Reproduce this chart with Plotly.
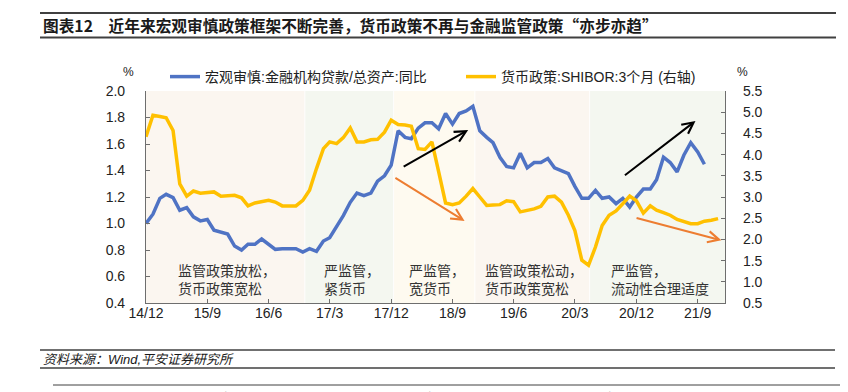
import pandas as pd
import plotly.graph_objects as go

# ---------------- data ----------------
months = pd.date_range("2014-12-01", periods=85, freq="MS")

macro_ratio = [  # 宏观审慎:金融机构贷款/总资产:同比 (left axis, %)
    1.00, 1.07, 1.19, 1.22, 1.195, 1.10, 1.12, 1.05, 1.02, 1.03,
    0.95, 0.935, 0.92, 0.83, 0.80, 0.843, 0.843, 0.883, 0.84, 0.805,
    0.81, 0.81, 0.81, 0.785, 0.81, 0.79, 0.868, 0.893, 0.98, 1.06,
    1.16, 1.23, 1.21, 1.23, 1.32, 1.36, 1.44, 1.70, 1.65, 1.64,
    1.72, 1.76, 1.76, 1.715, 1.83, 1.75, 1.83, 1.85, 1.885, 1.70,
    1.65, 1.61, 1.50, 1.43, 1.42, 1.53, 1.42, 1.46, 1.46, 1.49,
    1.42, 1.40, 1.376, 1.28, 1.19, 1.19, 1.25, 1.19, 1.20, 1.15,
    1.19, 1.125, 1.20, 1.26, 1.26, 1.33, 1.50, 1.46, 1.39, 1.515,
    1.61, 1.54, 1.447,
]

shibor_3m = [  # 货币政策:SHIBOR:3个月 (right axis, %)
    4.42, 4.93, 4.90, 4.87, 4.57, 3.31, 3.02, 3.14, 3.09, 3.10,
    3.12, 3.02, 3.04, 3.04, 2.98, 2.79, 2.86, 2.89, 2.92, 2.88,
    2.79, 2.79, 2.79, 2.92, 3.16, 3.67, 4.14, 4.30, 4.26, 4.40,
    4.63, 4.30, 4.30, 4.35, 4.36, 4.53, 4.81, 4.71, 4.70, 4.67,
    4.14, 4.12, 4.30, 3.60, 2.86, 2.82, 2.86, 3.02, 3.20, 3.00,
    2.80, 2.81, 2.82, 2.91, 2.89, 2.65, 2.68, 2.72, 2.78, 3.00,
    3.02, 2.88, 2.57, 2.21, 1.51, 1.39, 1.82, 2.33, 2.57, 2.67,
    2.84, 3.02, 2.91, 2.62, 2.79, 2.69, 2.63, 2.57, 2.47, 2.43,
    2.37, 2.37, 2.43, 2.45, 2.49,
]

tick_dates = ["2014-12-01", "2015-09-01", "2016-06-01", "2017-03-01", "2017-12-01",
              "2018-09-01", "2019-06-01", "2020-03-01", "2020-12-01", "2021-09-01"]
tick_labels = ["14/12", "15/9", "16/6", "17/3", "17/12", "18/9", "19/6", "20/3", "20/12", "21/9"]

# policy periods (start, end, colour) and their labels
period_starts = ["2014-12-01", "2016-11-12", "2017-12-14", "2018-12-12", "2020-05-08"]
period_ends = ["2016-11-08", "2017-12-10", "2018-12-08", "2020-05-04", "2022-01-01"]
period_colors = ["#FBF6F0", "#F4F7F0", "#FEFAF0", "#FBF6F0", "#F4F7F0"]
period_labels = ["监管政策放松，<br>货币政策宽松", "严监管，<br>紧货币", "严监管，<br>宽货币",
                 "监管政策松动，<br>货币政策宽松", "严监管，<br>流动性合理适度"]
label_px_x = [168, 314, 399, 475, 601]

# trend arrows: (tail date, tail y, head date, head y, colour)  y on left axis
arrow_tail_x = ["2018-01-19", "2020-10-04", "2017-12-13", "2020-11-25"]
arrow_tail_y = [1.423, 1.356, 1.351, 1.044]
arrow_head_x = ["2018-11-10", "2021-08-22", "2018-10-25", "2021-12-16"]
arrow_head_y = [1.706, 1.774, 1.019, 0.873]
arrow_colors = ["#000000", "#000000", "#ED7D31", "#ED7D31"]

BLUE = "#4F73C4"
YELLOW = "#FFC000"
AXIS = "#6E6E6E"
LAT = "Liberation Sans, Arial, Noto Sans CJK SC"
CJK = "Noto Sans CJK SC"

W, H = 848, 392
L, R, T, B = 138, 131, 83, 97
PW, PH = W - L - R, H - T - B


def px(x):
    return (x - L) / PW


def py(y):
    return (H - B - y) / PH


fig = go.Figure()
fig.add_trace(go.Scatter(x=months[:len(macro_ratio)], y=macro_ratio, mode="lines",
                         name="宏观审慎:金融机构贷款/总资产:同比", legendwidth=251,
                         line=dict(color=BLUE, width=3.5)))
fig.add_trace(go.Scatter(x=months[:len(shibor_3m)], y=shibor_3m, mode="lines",
                         name="货币政策:SHIBOR:3个月 (右轴)", yaxis="y2",
                         line=dict(color=YELLOW, width=3.5)))

shapes = []
for s, e, c in zip(period_starts, period_ends, period_colors):
    shapes.append(dict(type="rect", xref="x", yref="paper", x0=s, x1=e, y0=0, y1=1,
                       fillcolor=c, line=dict(width=0), layer="below"))

# report frame rules
rule = "#404040"
shapes += [
    dict(type="line", xref="paper", yref="paper", x0=px(32), x1=px(828), y0=py(5), y1=py(5),
         line=dict(color=rule, width=2)),
    dict(type="line", xref="paper", yref="paper", x0=px(32), x1=px(828), y0=py(29.5), y1=py(29.5),
         line=dict(color=rule, width=2)),
    dict(type="line", xref="paper", yref="paper", x0=px(32), x1=px(827), y0=py(342), y1=py(342),
         line=dict(color=rule, width=1.5)),
    dict(type="line", xref="paper", yref="paper", x0=px(32), x1=px(827), y0=py(360), y1=py(360),
         line=dict(color=rule, width=1.5)),
    dict(type="line", xref="paper", yref="paper", x0=px(45), x1=px(848), y0=py(377), y1=py(377),
         line=dict(color=rule, width=1)),
]

ann = []
for lbl, lx in zip(period_labels, label_px_x):
    ann.append(dict(text=lbl, xref="paper", yref="paper", x=px(lx), y=py(271),
                    xanchor="left", yanchor="middle", align="left", showarrow=False,
                    font=dict(family=CJK, size=14, color="#333333")))

for tx, ty, hx, hy, c in zip(arrow_tail_x, arrow_tail_y, arrow_head_x, arrow_head_y, arrow_colors):
    ann.append(dict(text="", x=hx, y=hy, ax=tx, ay=ty, xref="x", yref="y", axref="x", ayref="y",
                    showarrow=True, arrowhead=5, arrowsize=1.1, arrowwidth=2, arrowcolor=c))

ann += [
    dict(text="<b>图表12　近年来宏观审慎政策框架不断完善，货币政策不再与金融监管政策“亦步亦趋”</b>",
         xref="paper", yref="paper", x=px(33), y=py(17.5), xanchor="left", yanchor="middle",
         showarrow=False, font=dict(family=CJK, size=15.7, color="#1a1a1a")),
    dict(text="<i>资料来源：Wind,平安证券研究所</i>", xref="paper", yref="paper", x=px(33), y=py(351.5),
         xanchor="left", yanchor="middle", showarrow=False,
         font=dict(family=LAT, size=13, color="#1a1a1a")),
    dict(text="请通过合法途径获取本公司研究报告，如经由未经许可的渠道获得研究报告，请慎重使用并注意阅读研究报告尾页的声明内容。",
         xref="paper", yref="paper", x=px(45), y=py(389), xanchor="left", yanchor="middle",
         showarrow=False, font=dict(family=CJK, size=12, color="#333333")),
    dict(text="%", xref="paper", yref="paper", x=px(120), y=py(64), xanchor="center", yanchor="middle",
         showarrow=False, font=dict(family=LAT, size=12, color="#222222")),
    dict(text="%", xref="paper", yref="paper", x=px(734), y=py(64), xanchor="center", yanchor="middle",
         showarrow=False, font=dict(family=LAT, size=12, color="#222222")),
]

fig.update_layout(
    width=W, height=H,
    margin=dict(l=L, r=R, t=T, b=B),
    paper_bgcolor="white", plot_bgcolor="white",
    font=dict(family=LAT, size=14, color="#222222"),
    showlegend=True,
    legend=dict(orientation="h", x=px(157), y=py(69), xanchor="left", yanchor="middle",
                bgcolor="rgba(0,0,0,0)", tracegroupgap=0,
                font=dict(family=LAT, size=14, color="#222222"), itemwidth=30),
    xaxis=dict(type="date", range=["2014-12-01", "2022-01-01"], tickvals=tick_dates,
               ticktext=tick_labels, showgrid=False, showline=True, linecolor=AXIS, linewidth=1.2,
               ticks="inside", ticklen=4, tickcolor=AXIS, ticklabelstandoff=-3,
               tickfont=dict(family=LAT, size=14, color="#222222"), zeroline=False),
    yaxis=dict(range=[0.4, 2.0], dtick=0.2, tick0=0.4, tickformat=".1f", showgrid=False,
               showline=True, linecolor=AXIS, linewidth=1.2, ticks="inside", ticklen=4,
               tickcolor=AXIS, ticklabelstandoff=17, zeroline=False,
               tickfont=dict(family=LAT, size=14, color="#222222")),
    yaxis2=dict(range=[0.5, 5.5], dtick=0.5, tick0=0.5, tickformat=".1f", overlaying="y",
                side="right", showgrid=False, showline=True, linecolor=AXIS, linewidth=1.2,
                ticks="inside", ticklen=4, tickcolor=AXIS, ticklabelstandoff=14, zeroline=False,
                tickfont=dict(family=LAT, size=14, color="#222222")),
    shapes=shapes,
    annotations=ann,
)

fig.write_html("out.html")
